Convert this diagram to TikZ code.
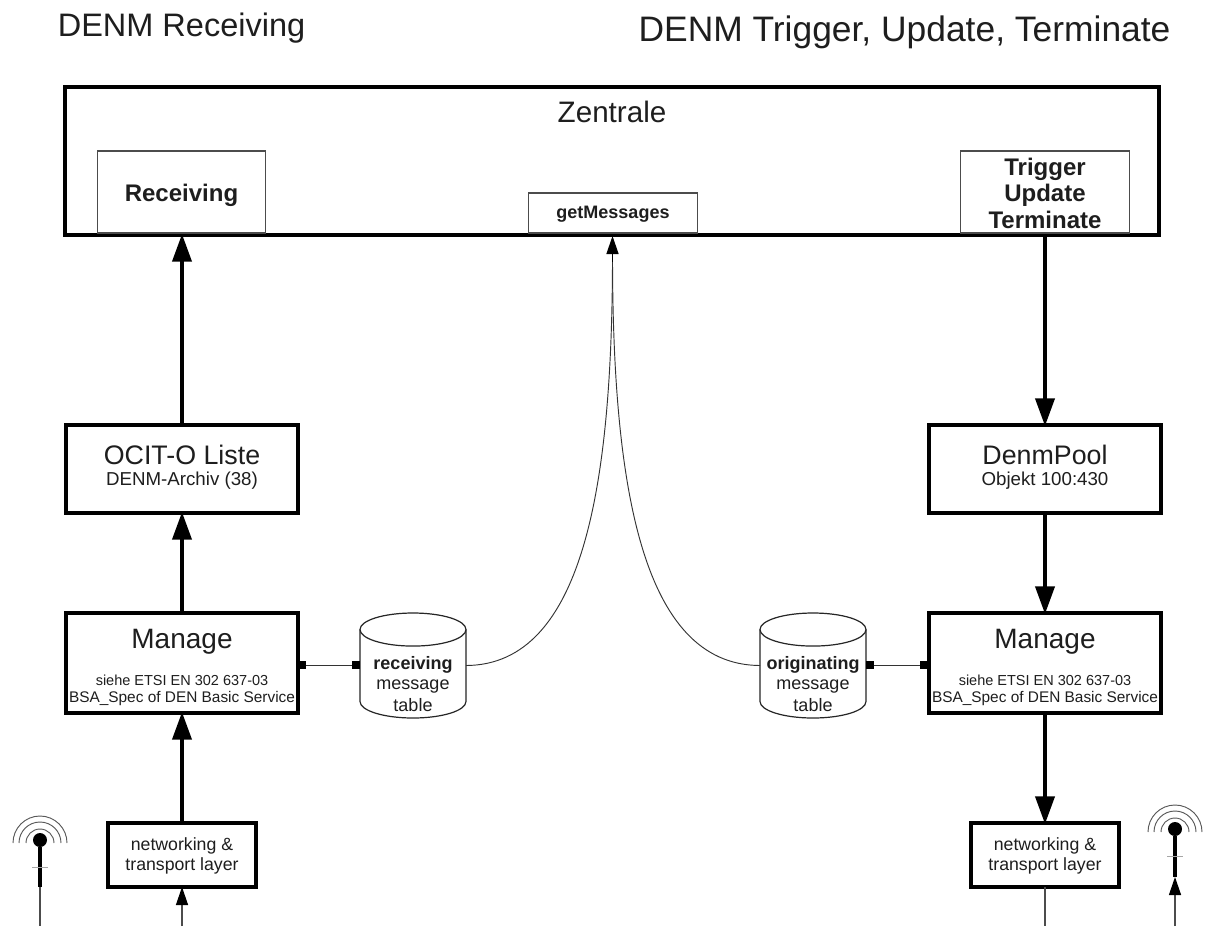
\documentclass[tikz,border=0pt]{standalone}
\usepackage{fontspec}
\setmainfont{Liberation Sans}
\usetikzlibrary{arrows.meta}
\newcommand{\px}[1]{\fontsize{\dimexpr#1pt*3/4\relax}{\dimexpr#1pt*7/8\relax}\selectfont}
\newcommand{\tablebody}[1]{%
  \draw[dbline,fill=white] ([yshift=-12.4pt]#1.north west) -- ([yshift=12.4pt]#1.south west)
    arc[start angle=180,end angle=360,x radius=39.75pt,y radius=12.4pt]
    -- ([yshift=-12.4pt]#1.north east)
    arc[start angle=0,end angle=180,x radius=39.75pt,y radius=12.4pt] -- cycle;
  \draw[dbline] ([yshift=-12.4pt]#1.north west)
    arc[start angle=180,end angle=360,x radius=39.75pt,y radius=12.4pt];}
\definecolor{ink}{HTML}{1E1E1E}
\tikzset{
  x=0.75pt,y=-0.75pt,
  every node/.style={text=ink,align=center,inner sep=0pt,outer sep=0pt},
  bigbox/.style={draw=black,line width=3pt,fill=white,minimum width=174pt,minimum height=66pt},
  thinbox/.style={draw=black!70,line width=0.8pt,fill=white,minimum width=126.5pt},
  netbox/.style={draw=black,line width=3pt,fill=white,minimum width=111pt,minimum height=48pt},
  db/.style={minimum width=79.5pt,minimum height=78.75pt},
  dbline/.style={draw=black!85,line width=0.9pt},
  pin/.style={fill=black,minimum width=5.5pt,minimum height=5.5pt},
  heavy/.style={line width=3.6pt,-{Triangle[length=21pt,width=14pt]},shorten >=-1pt},
  light/.style={line width=1pt,draw=black!70,-{Triangle[length=13.5pt,width=9pt,color=black]}},
  plain/.style={line width=1pt,draw=black!70},
  hair/.style={line width=0.7pt,draw=black!80},
  wave/.style={line width=0.7pt,draw=black!65},
  mast/.style={line width=3pt,draw=black}
}
\begin{document}
\begin{tikzpicture}
\useasboundingbox (0,0) rectangle (1207,926);
\fill[white] (0,0) rectangle (1207,926);
% titles
\node (t1) at (181.5,28) {\px{32.5}DENM Receiving};
\node (t2) at (904.5,32) {\px{35.4}DENM Trigger, Update, Terminate};
% Zentrale
\node[draw=black,line width=3pt,fill=white,minimum width=820pt,minimum height=111pt] (z) at (612,161) {};
\node (zt) at (612,112) {\px{29.6}Zentrale};
\node[thinbox,minimum height=61.5pt] (rec) at (181.5,192) {};
\node (rect) at (181.5,195) {\px{24}\bfseries Receiving};
\node[thinbox,minimum height=30pt] (gm) at (613,213) {};
\node (gmt) at (613,214) {\px{18}\bfseries getMessages};
\node[thinbox,minimum height=61.5pt] (trg) at (1045,192) {};
\node (trgt) at (1045,193) {\px{24}\bfseries Trigger\\[2pt]\px{24}\bfseries Update\\[2pt]\px{24}\bfseries Terminate};
% middle boxes
\node[bigbox] (oc) at (182,469) {};
\node (oct) at (182,467.5) {\px{26.8}OCIT-O Liste\\[4pt]\px{18.7}DENM-Archiv (38)};
\node[bigbox] (dp) at (1045,469) {};
\node (dpt) at (1045,467.5) {\px{26.8}DenmPool\\[4pt]\px{18.7}Objekt 100:430};
\node[bigbox,minimum height=75pt] (m1) at (182,663) {};
\node (m1a) at (182,642) {\px{28}Manage};
\node (m1b) at (182,690.5) {\px{14.5}siehe ETSI EN 302 637-03\\[1pt]\px{15.4}BSA\_Spec of DEN Basic Service};
\node[bigbox,minimum height=75pt] (m2) at (1045,663) {};
\node (m2a) at (1045,642) {\px{28}Manage};
\node (m2b) at (1045,690.5) {\px{14.5}siehe ETSI EN 302 637-03\\[1pt]\px{15.4}BSA\_Spec of DEN Basic Service};
\node[netbox] (n1) at (182,855) {};
\node (n1t) at (182,856) {\px{17.7}networking \&\\[2.2pt]\px{17.7}transport layer};
\node[netbox] (n2) at (1045,855) {};
\node (n2t) at (1045,856) {\px{17.7}networking \&\\[2.2pt]\px{17.7}transport layer};
% tables
\node[db] (d1) at (413,665.5) {};
\tablebody{d1}
\node (d1t) at (413,684) {\px{18}\bfseries receiving\\[3.5pt]\px{18}message\\[3pt]\px{18}table};
\node[db] (d2) at (813,665.5) {};
\tablebody{d2}
\node (d2t) at (813,684) {\px{18}\bfseries originating\\[3.5pt]\px{18}message\\[3pt]\px{18}table};
% pins
\node[pin] (p1) at (302,665) {};
\node[pin] (p2) at (356,665) {};
\node[pin] (p3) at (870,665) {};
\node[pin] (p4) at (924,665) {};
\draw[hair] (p1) -- (p2);
\draw[hair] (p3) -- (p4);
% main connectors
\draw[heavy] (oc.north) -- (182,235);
\draw[heavy] (m1.north) -- (oc.south);
\draw[heavy] (n1.north) -- (m1.south);
\draw[heavy] (1045,235) -- (dp.north);
\draw[heavy] (dp.south) -- (m2.north);
\draw[heavy] (m2.south) -- (n2.north);
% curves
\coordinate (gmin) at (612.5,236);
\draw[hair] (d1.east) .. controls (585,665) and (612,480) .. (612.5,260);
\draw[hair] (d2.west) .. controls (640,665) and (613,480) .. (612.5,260);
\draw[light,draw=black] (612.5,262) -- (gmin);
% radio stack
\coordinate (b1) at (182,926);
\draw[light] (b1) -- (n1.south);
\coordinate (b2) at (1045,926);
\draw[plain] (n2.south) -- (b2);
% antenna left
\node[circle,fill=black,minimum size=10.5pt] (a1) at (40,840) {};
\coordinate (a1b) at (40,887);
\coordinate (a1e) at (40,926);
\draw[mast] (a1) -- (a1b);
\draw[plain] (a1b) -- (a1e);
\draw[line width=.5pt,draw=black!35] (32,867.5) -- (48,867.5);
\foreach \r in {14,21,27}{\draw[wave] (40+\r,843) arc[start angle=0,end angle=180,radius=\r*0.75pt];}
% antenna right
\node[circle,fill=black,minimum size=10.5pt] (a2) at (1175,829) {};
\coordinate (a2b) at (1175,877);
\coordinate (a2e) at (1175,926);
\draw[mast] (a2) -- (a2b);
\draw[light] (a2e) -- (a2b);
\draw[line width=.5pt,draw=black!35] (1167,856) -- (1183,856);
\foreach \r in {14,21,27}{\draw[wave] (1175+\r,832) arc[start angle=0,end angle=180,radius=\r*0.75pt];}
\end{tikzpicture}
\end{document}
